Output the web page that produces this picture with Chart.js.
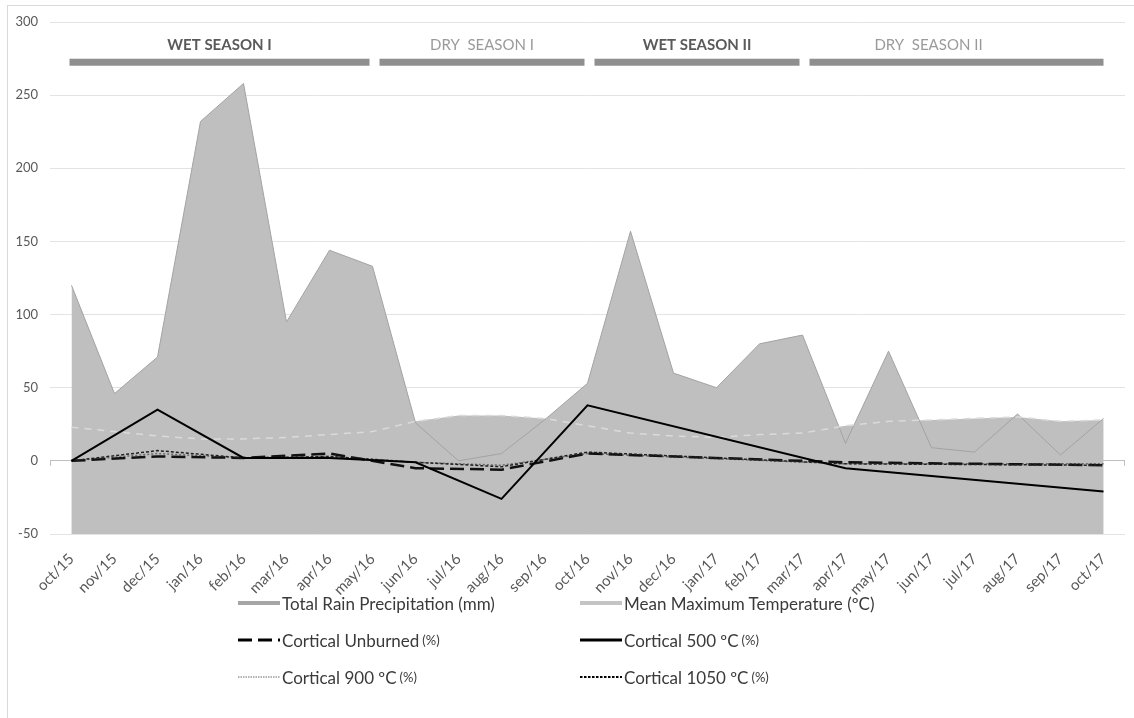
<!DOCTYPE html>
<html>
<head>
<meta charset="utf-8">
<script src="https://cdn.jsdelivr.net/npm/chart.js@4.4.1/dist/chart.umd.min.js"></script>
<style>
  body { margin: 0; background: #fff; }
  #wrap { position: relative; width: 1134px; height: 718px; overflow: hidden; font-family: Lato, "Open Sans", sans-serif; }
  #chart { position: absolute; left: 0; top: 0; }
  #frame { position: absolute; left: 7px; top: 5px; width: 1200px; height: 800px; border-top: 1px solid #d9d9d9; border-left: 1px solid #d9d9d9; }
  #legend { position: absolute; left: 0; top: 0; width: 1134px; height: 718px; pointer-events: none; }
  .item { position: absolute; display: flex; align-items: center; height: 24px; color: #3a3a3a; font-size: 17px; white-space: nowrap; }
  .item svg { margin-right: 2px; }
  .item small { font-size: 13px; margin-left: 3px; }
</style>
</head>
<body>
<div id="wrap">
  <div id="frame"></div>
  <canvas id="chart" width="1134" height="718"></canvas>
  <div id="legend"></div>
</div>
<script>
const months = ["oct/15", "nov/15", "dec/15", "jan/16", "feb/16", "mar/16", "apr/16", "may/16",
  "jun/16", "jul/16", "aug/16", "sep/16", "oct/16", "nov/16", "dec/16", "jan/17", "feb/17",
  "mar/17", "apr/17", "may/17", "jun/17", "jul/17", "aug/17", "sep/17", "oct/17"];

// total rain (mm) and mean max temperature (ºC)
const rain = [120, 46, 71, 232, 258, 95, 144, 133, 26, 0, 5, 28, 53, 157, 60, 50, 80, 86, 12, 75, 9, 6, 32, 4, 29];
const temperature = [23, 20, 17, 15, 15, 16, 18, 20, 27, 31, 31, 29, 24, 19, 17, 16, 18, 19, 24, 27, 28, 29, 30, 27, 28];

// cortical variation (%), measured every few months
const unburned = [0, null, 3, null, 2, null, 5, null, -5, null, -6, null, 5, null, null, null, null, null, -1, null, null, null, null, null, -3];
const cortical500 = [0, null, 35, null, 2, null, 2, null, -1, null, -26, null, 38, null, null, null, null, null, -5, null, null, null, null, null, -21];
const cortical900 = [0, null, 5, null, 2, null, 3, null, -1, null, -3, null, 5, null, null, null, null, null, -2, null, null, null, null, null, -2];
const cortical1050 = [0, null, 7, null, 2, null, 3, null, -1, null, -4, null, 6, null, null, null, null, null, -2, null, null, null, null, null, -3];

const seasonNames = ["WET SEASON I", "DRY  SEASON I", "WET SEASON II", "DRY  SEASON II"];
const seasonStart = [0, 7, 12, 17];
const seasonEnd = [7, 12, 17, 24];

const yTicks = [-50, 0, 50, 100, 150, 200, 250, 300];

const grey = "#595959";

const seasonPlugin = {
  id: "seasons",
  afterDatasetsDraw(chart) {
    const ctx = chart.ctx;
    const x = chart.scales.x;
    const y = chart.scales.y;
    const barY = y.getPixelForValue(272.5);
    const textY = y.getPixelForValue(284);
    ctx.save();
    for (let i = 0; i < seasonNames.length; i++) {
      const x0 = x.getPixelForValue(seasonStart[i]) + (i === 0 ? -2 : 7);
      const x1 = x.getPixelForValue(seasonEnd[i]) - (i === seasonNames.length - 1 ? 0 : 3);
      ctx.fillStyle = "#8f8f8f";
      ctx.fillRect(x0, barY - 3.5, x1 - x0, 7);
      const wet = seasonNames[i].startsWith("WET");
      ctx.font = (wet ? "bold " : "") + "15px Lato";
      ctx.fillStyle = wet ? "#5a5a5a" : "#9a9a9a";
      ctx.textAlign = "center";
      ctx.textBaseline = "middle";
      let cx = (x0 + x1) / 2;
      if (i === 3) cx -= 28;
      ctx.fillText(seasonNames[i], cx, textY);
    }
    // small tick marks at both ends of the category axis
    const zero = y.getPixelForValue(0);
    ctx.strokeStyle = "#bfbfbf";
    ctx.lineWidth = 1;
    ctx.beginPath();
    ctx.moveTo(x.left + 0.5, zero);
    ctx.lineTo(x.left + 0.5, zero + 5);
    ctx.moveTo(x.right - 0.5, zero);
    ctx.lineTo(x.right - 0.5, zero + 5);
    ctx.stroke();
    ctx.restore();
  }
};

const myChart = new Chart(document.getElementById("chart"), {
  type: "line",
  data: {
    labels: months,
    datasets: [
      {
        label: "Total Rain Precipitation (mm)",
        data: rain,
        fill: "start",
        backgroundColor: "#bfbfbf",
        borderColor: "#a3a3a3",
        borderWidth: 1,
        pointRadius: 0,
        order: 6
      },
      {
        label: "Mean Maximum Temperature (ºC)",
        data: temperature,
        fill: "start",
        backgroundColor: "#bfbfbf",
        borderColor: "#dadada",
        borderWidth: 1.5,
        borderDash: [7, 6],
        pointRadius: 0,
        order: 5
      },
      {
        label: "Cortical Unburned (%)",
        data: unburned,
        borderColor: "#111",
        borderWidth: 2.5,
        borderDash: [14, 6],
        pointRadius: 0,
        spanGaps: true,
        fill: false,
        order: 3
      },
      {
        label: "Cortical 500 ºC (%)",
        data: cortical500,
        borderColor: "#000",
        borderWidth: 2,
        pointRadius: 0,
        spanGaps: true,
        fill: false,
        order: 1
      },
      {
        label: "Cortical 900 ºC (%)",
        data: cortical900,
        borderColor: "#6e6e6e",
        borderWidth: 1.5,
        borderDash: [2, 2],
        pointRadius: 0,
        spanGaps: true,
        fill: false,
        order: 4
      },
      {
        label: "Cortical 1050 ºC (%)",
        data: cortical1050,
        borderColor: "#222",
        borderWidth: 1.5,
        borderDash: [3, 2],
        pointRadius: 0,
        spanGaps: true,
        fill: false,
        order: 2
      }
    ]
  },
  options: {
    responsive: false,
    animation: false,
    layout: { padding: { top: 22, right: 9, left: 0, bottom: 0 } },
    plugins: {
      legend: { display: false },
      tooltip: { enabled: false },
      filler: { drawTime: "beforeDatasetsDraw" }
    },
    elements: { line: { tension: 0 } },
    scales: {
      x: {
        offset: true,
        grid: { display: false },
        border: { display: false },
        ticks: {
          color: grey,
          font: { family: "Lato", size: 15 },
          minRotation: 45,
          maxRotation: 45,
          autoSkip: false,
          padding: 8
        },
        afterFit: (scale) => { scale.height = 184; }
      },
      y: {
        min: -50,
        max: 300,
        afterBuildTicks: (scale) => { scale.ticks = yTicks.map((v) => ({ value: v })); },
        ticks: { color: grey, font: { family: "Lato", size: 13 }, padding: 12 },
        grid: {
          drawTicks: false,
          color: (c) => (c.tick && c.tick.value === 0 ? "#bfbfbf" : "#e3e3e3")
        },
        border: { display: false },
        afterFit: (scale) => { scale.width = 50; }
      }
    }
  },
  plugins: [seasonPlugin]
});

// legend laid out in two columns like the original
const legendGlyphs = [
  { color: "#a6a6a6", width: 4, dash: "" },
  { color: "#c4c4c4", width: 4, dash: "" },
  { color: "#000", width: 3, dash: "14 6" },
  { color: "#000", width: 3, dash: "" },
  { color: "#9a9a9a", width: 1.5, dash: "1.5 1" },
  { color: "#000", width: 2, dash: "2.5 1.5" }
];
const legendText = ["Total Rain Precipitation (mm)", "Mean Maximum Temperature (ºC)",
  "Cortical Unburned", "Cortical 500 ºC", "Cortical 900 ºC", "Cortical 1050 ºC"];
const legendUnit = ["", "", "(%)", "(%)", "(%)", "(%)"];

const legendBox = document.getElementById("legend");
legendText.forEach((t, i) => {
  const g = legendGlyphs[i];
  const div = document.createElement("div");
  div.className = "item";
  div.style.left = (i % 2 === 0 ? 238 : 580) + "px";
  div.style.top = (591 + Math.floor(i / 2) * 37) + "px";
  div.innerHTML =
    `<svg width="42" height="10"><line x1="0" y1="5" x2="42" y2="5" stroke="${g.color}" stroke-width="${g.width}" stroke-dasharray="${g.dash}"/></svg>` +
    `<span>${t}</span>` + (legendUnit[i] ? `<small>${legendUnit[i]}</small>` : "");
  legendBox.appendChild(div);
});
</script>
</body>
</html>
